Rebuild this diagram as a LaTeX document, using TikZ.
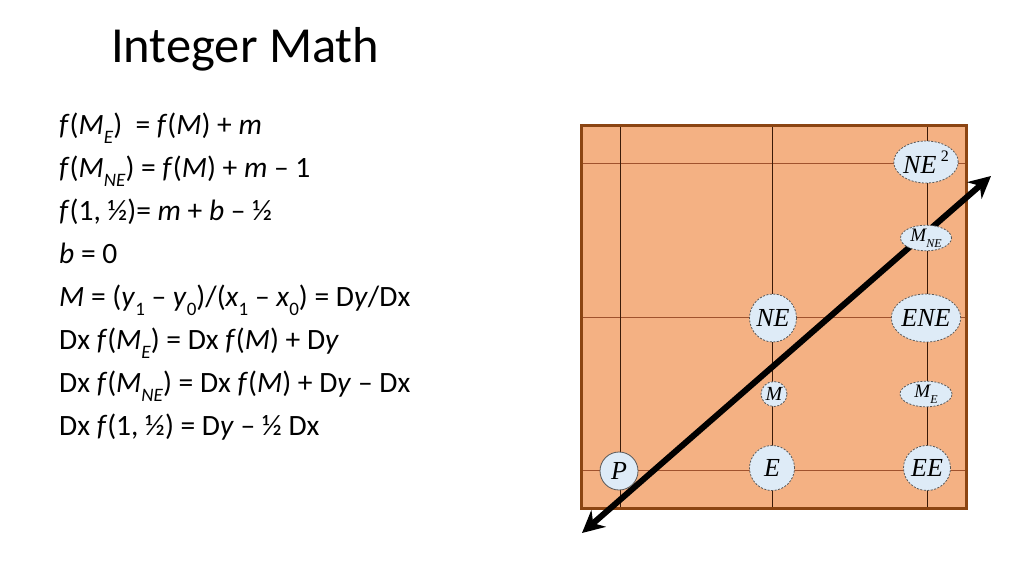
\documentclass[tikz,border=0pt]{standalone}
\usepackage{fontspec}
\setmainfont{Carlito}
\newfontfamily\nodeserif{Liberation Serif}
\usetikzlibrary{shapes.geometric,arrows.meta}
\definecolor{boxfill}{HTML}{F4B183}
\definecolor{boxedge}{HTML}{8B4513}
\definecolor{hline}{HTML}{A0522D}
\definecolor{vline}{HTML}{3A1A08}
\definecolor{ptfill}{HTML}{DEEBF7}
\newcommand\lsub[1]{\raisebox{-0.32em}{\fontsize{19}{19}\selectfont #1}}
\newcommand\nsub[1]{\raisebox{-0.3em}{\fontsize{12}{12}\selectfont #1}}
\tikzset{
  eqline/.style={anchor=base west, inner sep=0pt, font=\fontsize{29.5}{34}\selectfont},
  ptnode/.style={ellipse, draw=black!65, line width=0.8pt, dash pattern=on 2pt off 1.5pt,
    fill=ptfill, inner sep=0pt, font=\nodeserif\itshape\fontsize{26}{26}\selectfont},
  smallpt/.style={ptnode, font=\nodeserif\itshape\fontsize{19}{19}\selectfont},
  gridv/.style={draw=vline, line width=1pt},
  gridh/.style={draw=hline, line width=1pt},
  bigarrow/.style={line width=6pt, {Stealth[length=22pt,width=22pt]}-{Stealth[length=22pt,width=22pt]}}
}
\begin{document}
\begin{tikzpicture}[x=1pt,y=-1pt]
\useasboundingbox (0,0) rectangle (1024,576);
\node[anchor=base west, inner sep=0pt, font=\fontsize{50.5}{56}\selectfont] (title) at (111,62) {Integer Math};

\node[eqline] (l1) at (59,134) {\textit{f}(\textit{M}\lsub{\textit{E}})\ \ = \textit{f}(\textit{M}) + \textit{m}};
\node[eqline] (l2) at (59,177) {\textit{f}(\textit{M}\lsub{\textit{NE}}) = \textit{f}(\textit{M}) + \textit{m} – 1};
\node[eqline] (l3) at (59,220) {\textit{f}(1, ½)= \textit{m} + \textit{b} – ½};
\node[eqline] (l4) at (59,263) {\textit{b} = 0};
\node[eqline] (l5) at (59,306) {\textit{M} = (\textit{y}\lsub{1} – \textit{y}\lsub{0})/(\textit{x}\lsub{1} – \textit{x}\lsub{0}) = D\textit{y}/Dx};
\node[eqline] (l6) at (59,349) {Dx \textit{f}(\textit{M}\lsub{\textit{E}}) = Dx \textit{f}(\textit{M}) + D\textit{y}};
\node[eqline] (l7) at (59,392) {Dx \textit{f}(\textit{M}\lsub{\textit{NE}}) = Dx \textit{f}(\textit{M}) + D\textit{y} – Dx};
\node[eqline] (l8) at (59,435) {Dx \textit{f}(1, ½) = D\textit{y} – ½ Dx};

% box
\fill[boxfill] (581,125) rectangle (966,508);
\draw[gridh] (581,163) -- (966,163);
\draw[gridh] (581,317) -- (966,317);
\draw[gridh] (581,470) -- (966,470);
\draw[gridv] (620,125) -- (620,508);
\draw[gridv] (772,125) -- (772,508);
\draw[gridv] (927,125) -- (927,508);
\draw[boxedge, line width=3pt] (581,125) rectangle (966,508);

% arrow (below the point nodes)
\coordinate (a0) at (582,533);
\coordinate (a1) at (991,176);
\draw[bigarrow] (a0) -- (a1);

% points
\node[ptnode, minimum width=63pt, minimum height=42pt] (ne2) at (926,162) {NE\,\raisebox{0.45em}{\upshape\fontsize{16}{16}\selectfont 2}};
\node[smallpt, minimum width=51pt, minimum height=23pt] (mne) at (926,238) {M\nsub{NE}};
\node[ptnode, minimum width=46pt, minimum height=48pt] (ne) at (773,318) {NE};
\node[ptnode, minimum width=64pt, minimum height=48pt] (ene) at (926,318) {ENE};
\node[smallpt, minimum width=26pt, minimum height=25pt, font=\nodeserif\itshape\fontsize{20}{20}\selectfont] (m) at (774,394) {M};
\node[smallpt, minimum width=52pt, minimum height=23pt] (me) at (926,394) {M\nsub{E}};
\node[ptnode, solid, minimum width=38pt, minimum height=38pt] (p) at (619,471) {P};
\node[ptnode, minimum width=45pt, minimum height=45pt] (e) at (772,468) {E};
\node[ptnode, minimum width=47pt, minimum height=45pt] (ee) at (927,468) {EE};
\end{tikzpicture}
\end{document}
